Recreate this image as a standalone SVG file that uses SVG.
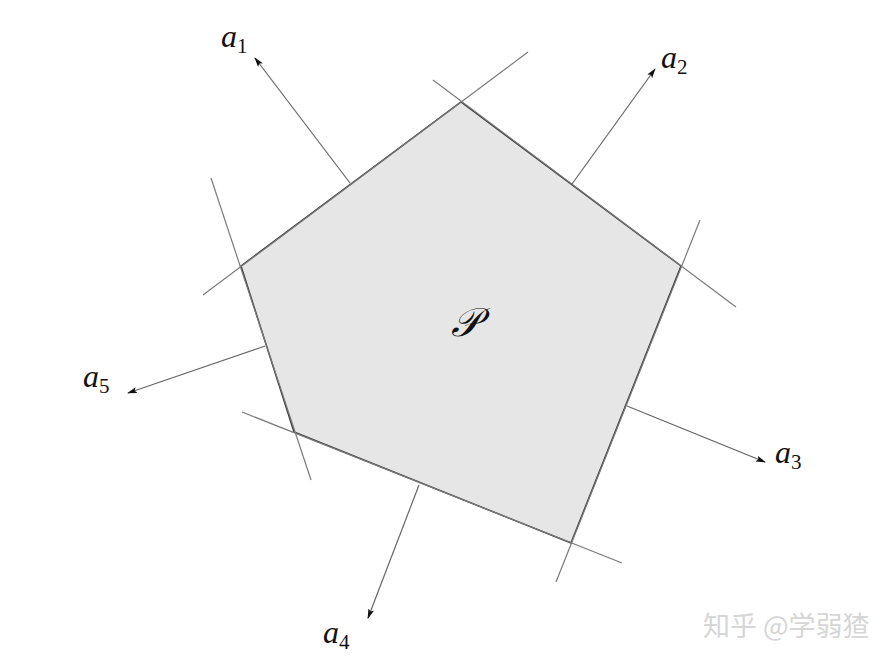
<svg xmlns="http://www.w3.org/2000/svg" width="891" height="662" viewBox="0 0 891 662">
<defs>
<style>
.ext{stroke:#7a7a7a;stroke-width:1.2;fill:none}
.arr{stroke:#666;stroke-width:1.2;fill:none;marker-end:url(#ah)}
.lbl{font-family:"Liberation Serif","DejaVu Serif",serif;font-style:italic;font-size:32px;fill:#111}
.sub{font-style:normal;font-size:21px}
</style>
<marker id="ah" viewBox="0 0 10 6" refX="9" refY="3" markerWidth="10" markerHeight="6" markerUnits="userSpaceOnUse" orient="auto">
<path d="M0,0 L10,3 L0,6 L2,3 Z" fill="#111"/>
</marker>
</defs>
<rect width="891" height="662" fill="#fff"/>
<g id="polygon">
<polygon points="461,102 681,266 571,543 294,432 241,266" fill="#e6e6e6" stroke="#3a3a3a" stroke-width="1.5"/>
<text x="451" y="336" font-family="DejaVu Serif,'Liberation Serif',serif" font-style="italic" font-size="40" fill="#111">𝒫</text>
</g>
<g id="connectors">
<line class="ext" x1="203" y1="295" x2="528" y2="52"/>
<line class="ext" x1="433" y1="80" x2="736" y2="307"/>
<line class="ext" x1="700" y1="220" x2="556" y2="582"/>
<line class="ext" x1="622" y1="563" x2="242" y2="412"/>
<line class="ext" x1="311" y1="480" x2="211" y2="178"/>
<line class="arr" x1="350" y1="183" x2="255" y2="58"/>
<line class="arr" x1="572" y1="184" x2="655" y2="69"/>
<line class="arr" x1="627" y1="406" x2="765" y2="462"/>
<line class="arr" x1="419" y1="485" x2="368" y2="618"/>
<line class="arr" x1="265" y1="346" x2="128" y2="393"/>
</g>
<g id="a1"><text class="lbl" x="221" y="47">a<tspan class="sub" dy="6">1</tspan></text></g>
<g id="a2"><text class="lbl" x="661" y="68">a<tspan class="sub" dy="6">2</tspan></text></g>
<g id="a3"><text class="lbl" x="775" y="463">a<tspan class="sub" dy="6">3</tspan></text></g>
<g id="a4"><text class="lbl" x="323" y="643">a<tspan class="sub" dy="6">4</tspan></text></g>
<g id="a5"><text class="lbl" x="83" y="387">a<tspan class="sub" dy="6">5</tspan></text></g>
<g id="watermark"><text x="703" y="636" font-family="'Noto Sans CJK SC',sans-serif" font-size="27" fill="#d6d6d6">知乎 @学弱猹</text></g>
</svg>
